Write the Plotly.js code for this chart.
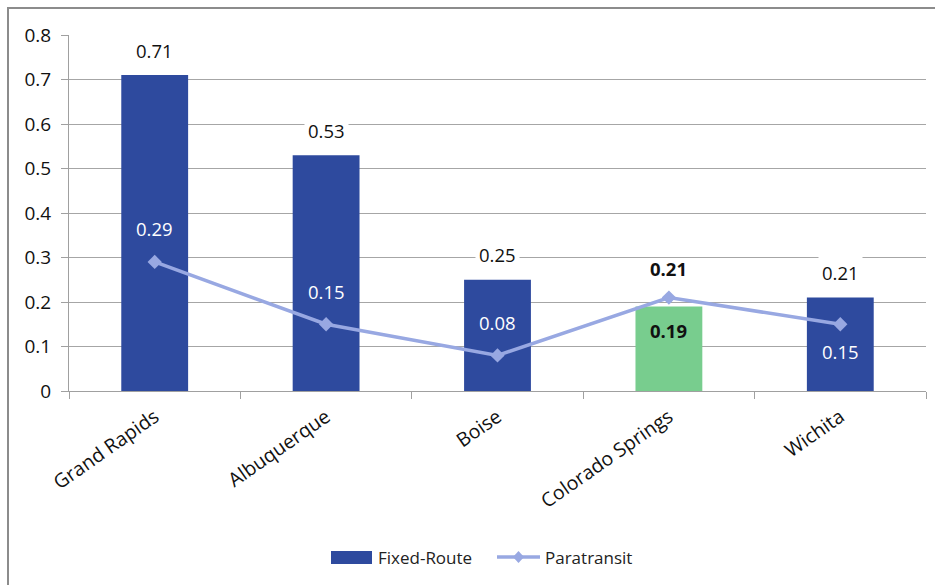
<!DOCTYPE html>
<html>
<head>
<meta charset="utf-8">
<script src="https://cdn.plot.ly/plotly-3.0.1.min.js"></script>
<style>
  html, body { margin: 0; padding: 0; background: #fff; overflow: hidden; }
  #frame { position: absolute; left: 7px; top: 7px; width: 1000px; height: 700px; border: 2px solid #8c8c8c; box-sizing: border-box; }
  #chart { position: absolute; left: 0; top: 0; width: 935px; height: 585px; }
</style>
</head>
<body>
<div id="frame"></div>
<div id="chart"></div>
<script>
// ---- data ----
const cities = ["Grand Rapids", "Albuquerque", "Boise", "Colorado Springs", "Wichita"];
const fixedRoute = [0.71, 0.53, 0.25, 0.19, 0.21];
const paratransit = [0.29, 0.15, 0.08, 0.21, 0.15];
const yTicks = [0, 0.1, 0.2, 0.3, 0.4, 0.5, 0.6, 0.7, 0.8];
const seriesNames = ["Fixed-Route", "Paratransit"];

// ---- styles ----
const FONT = "'Open Sans', 'Noto Sans', sans-serif";
const BLUE = "#2E4A9E";
const GREEN = "#78CD8E";
const LINE = "#98A8E2";
const HIGHLIGHT = "Colorado Springs";
const LABEL_SIZE = 18.5;

const barColors = cities.map(c => c === HIGHLIGHT ? GREEN : BLUE);

const traces = [
  {
    type: "bar",
    name: seriesNames[0],
    x: cities,
    y: fixedRoute,
    width: 0.39,
    marker: { color: barColors, line: { width: 0 } },
    showlegend: false
  },
  {
    type: "scatter",
    mode: "lines+markers",
    name: seriesNames[1],
    x: cities,
    y: paratransit,
    line: { color: LINE, width: 3.5 },
    marker: { symbol: "diamond", size: 11, color: LINE },
    showlegend: false
  }
];

const annotations = [];
cities.forEach((c, i) => {
  const hl = c === HIGHLIGHT;
  annotations.push({
    x: c, y: fixedRoute[i], xref: "x", yref: "y",
    text: hl ? "<b>" + fixedRoute[i].toFixed(2) + "</b>" : fixedRoute[i].toFixed(2),
    showarrow: false, yanchor: "middle",
    yshift: hl ? -24 : 25,
    bgcolor: hl ? "rgba(0,0,0,0)" : "#ffffff",
    borderpad: 3,
    font: { family: FONT, size: LABEL_SIZE, color: "#111" }
  });
  const below = i === cities.length - 1;
  annotations.push({
    x: c, y: paratransit[i], xref: "x", yref: "y",
    text: hl ? "<b>" + paratransit[i].toFixed(2) + "</b>" : paratransit[i].toFixed(2),
    showarrow: false, yanchor: "middle",
    yshift: below ? -27 : (hl ? 29 : 33),
    font: { family: FONT, size: LABEL_SIZE, color: hl ? "#111" : "#ffffff" }
  });
});

// ---- manual legend (paper coords derived from pixel layout) ----
const L = 69, R = 926, T = 35, B = 391;
const px = x => (x - L) / (R - L);
const py = y => (B - y) / (B - T);
const shapes = [
  { type: "rect", xref: "paper", yref: "paper", x0: px(331), x1: px(372), y0: py(564), y1: py(551),
    fillcolor: BLUE, line: { width: 0 } },
  { type: "line", xref: "paper", yref: "paper", x0: px(497), x1: px(540), y0: py(557), y1: py(557),
    line: { color: LINE, width: 3.5 } },
  { type: "path", xref: "paper", yref: "paper",
    path: `M ${px(518.5)} ${py(551)} L ${px(524)} ${py(557)} L ${px(518.5)} ${py(563)} L ${px(513)} ${py(557)} Z`,
    fillcolor: LINE, line: { width: 0 } }
];
annotations.push(
  { xref: "paper", yref: "paper", x: px(376), y: py(557), xanchor: "left", yanchor: "middle",
    text: seriesNames[0], showarrow: false, font: { family: FONT, size: 17, color: "#222" } },
  { xref: "paper", yref: "paper", x: px(543), y: py(557), xanchor: "left", yanchor: "middle",
    text: seriesNames[1], showarrow: false, font: { family: FONT, size: 17, color: "#222" } }
);

const layout = {
  width: 935, height: 585,
  margin: { l: L, r: 935 - R, t: T, b: 585 - B },
  paper_bgcolor: "rgba(0,0,0,0)",
  plot_bgcolor: "#ffffff",
  font: { family: FONT, size: 17, color: "#222" },
  showlegend: false,
  xaxis: {
    type: "category",
    tickson: "boundaries",
    ticks: "outside", ticklen: 7, tickcolor: "#a0a0a0",
    showline: true, linecolor: "#a0a0a0", linewidth: 1,
    showgrid: false,
    tickangle: -35,
    ticklabelstandoff: 6,
    tickfont: { family: FONT, size: 19.5, color: "#111" },
    fixedrange: true
  },
  yaxis: {
    range: [0, 0.8],
    tickvals: yTicks,
    ticktext: yTicks.map(v => v === 0 ? "0" : String(v)),
    ticks: "outside", ticklen: 7, tickcolor: "#a0a0a0",
    showline: true, linecolor: "#a0a0a0", linewidth: 1,
    showgrid: true, gridcolor: "#a6a6a6", gridwidth: 1,
    zeroline: false,
    ticklabelstandoff: 6,
    tickfont: { family: FONT, size: 19, color: "#111" },
    fixedrange: true
  },
  shapes: shapes,
  annotations: annotations
};

Plotly.newPlot("chart", traces, layout, { displayModeBar: false, staticPlot: true });
</script>
</body>
</html>
